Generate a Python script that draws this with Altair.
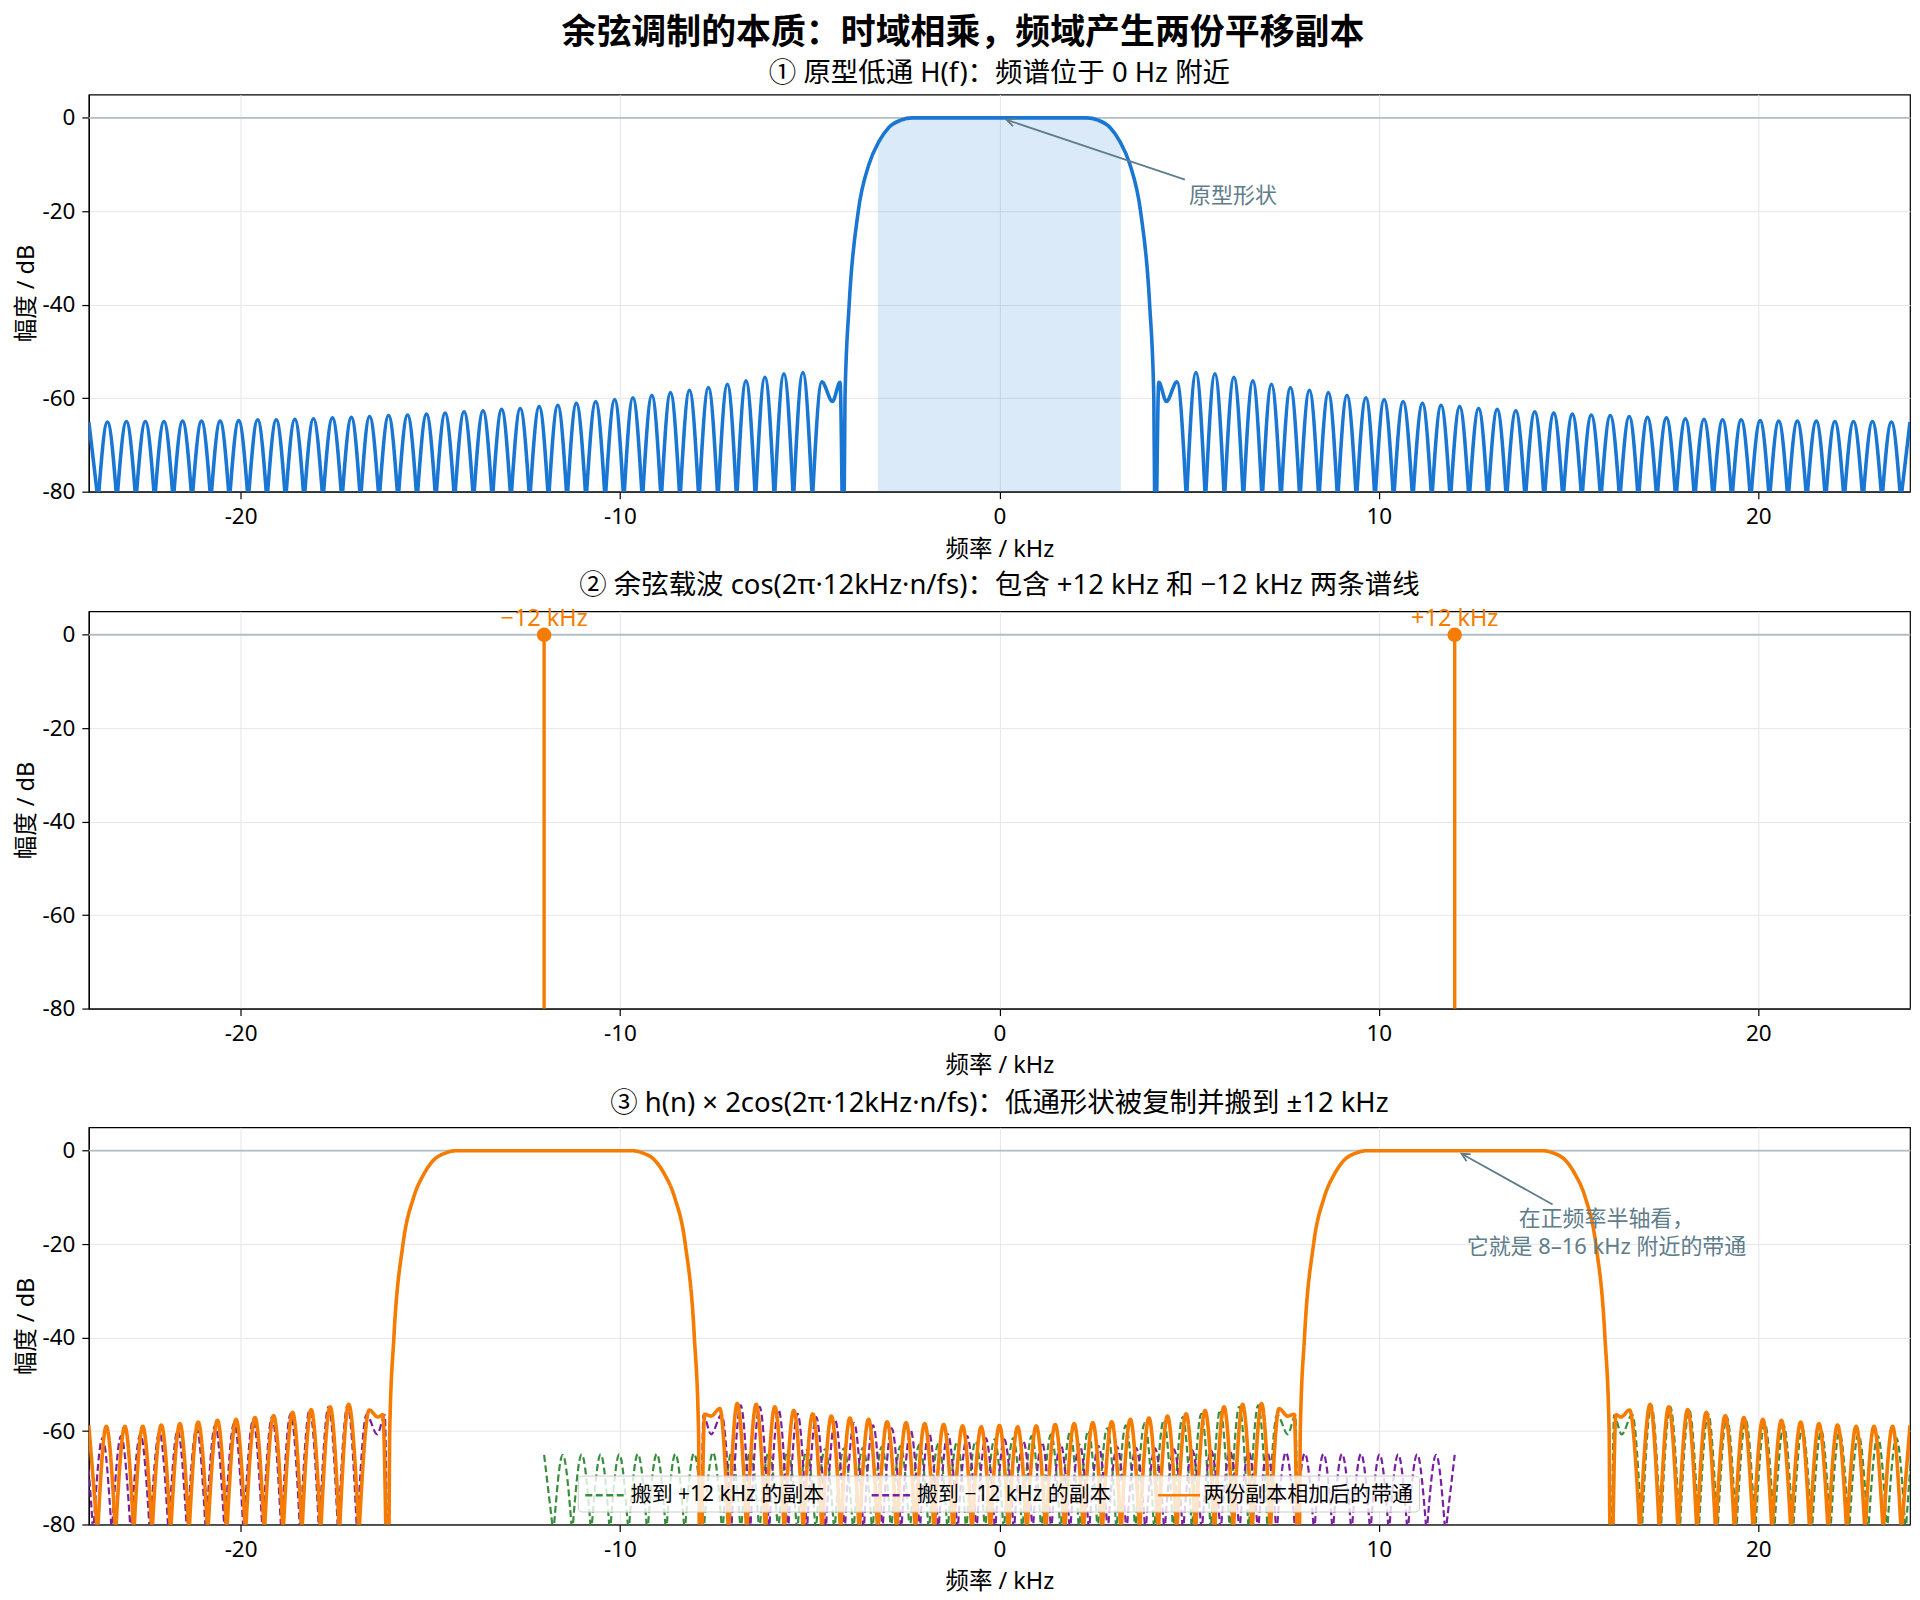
import math
import altair as alt
import pandas as pd

# ---------------- values ----------------
FONT = "Noto Sans, Noto Sans CJK SC"
BLUE, ORANGE, GREEN, PURPLE = "#1976d2", "#f57c00", "#388e3c", "#7b1fa2"
NOTE, ZERO_C = "#607d8b", "#b0bec5"

W, H = 1825, 398
X_DOMAIN = [-24, 24]
Y_DOMAIN = [-80, 5]
X_TICKS = [-20, -10, 0, 10, 20]
Y_TICKS = [-80, -60, -40, -20, 0]
NULL_DB = -82.0          # side-lobe nulls fall below the visible floor
SHIFT_KHZ = 12.0         # carrier frequency

SUPTITLE = "余弦调制的本质：时域相乘，频域产生两份平移副本"
TITLES = [
    "① 原型低通 H(f)：频谱位于 0 Hz 附近",
    "② 余弦载波 cos(2π·12kHz·n/fs)：包含 +12 kHz 和 −12 kHz 两条谱线",
    "③ h(n) × 2cos(2π·12kHz·n/fs)：低通形状被复制并搬到 ±12 kHz",
]
X_TITLE = "频率 / kHz"
Y_TITLE = "幅度 / dB"

# prototype low-pass: side-lobe peaks on the negative half (kHz, dB)
proto_peak_f = [-24.00, -23.51, -23.01, -22.51, -22.02, -21.53, -21.03, -20.54, -20.05, -19.55,
                -19.06, -18.57, -18.08, -17.58, -17.08, -16.60, -16.10, -15.60, -15.10, -14.61,
                -14.11, -13.61, -13.12, -12.63, -12.13, -11.64, -11.15, -10.64, -10.14, -9.66,
                -9.16, -8.67, -8.17, -7.67, -7.17, -6.68, -6.18, -5.68, -5.18]
proto_peak_db = [-65.1, -65.1, -65.0, -65.0, -65.0, -64.9, -64.9, -64.9, -64.8, -64.6,
                 -64.6, -64.5, -64.4, -64.2, -64.1, -63.9, -63.7, -63.6, -63.4, -63.2,
                 -62.9, -62.7, -62.4, -62.2, -61.8, -61.5, -61.1, -60.7, -60.3, -59.9,
                 -59.4, -58.8, -58.3, -57.7, -57.0, -56.3, -55.5, -54.8, -54.5]
# double-humped lobe next to the transition band
proto_shoulder_f = [-4.68, -4.40, -4.20]
proto_shoulder_db = [-56.5, -60.7, -56.6]
# left edge of the main lobe up to the centre
proto_edge_f = [-4.09, -4.07, -3.96, -3.72, -3.44, -3.17, -2.91, -2.60, -2.30, 0.00]
proto_edge_db = [-80.0, -60.0, -40.0, -20.0, -10.0, -5.0, -2.0, -0.5, 0.0, 0.0]
# shaded pass band
shade_f = [-3.20, -2.91, -2.60, -2.30, 2.30, 2.60, 2.91, 3.20]
shade_db = [-5.6, -2.0, -0.5, 0.0, 0.0, -0.5, -2.0, -5.6]

# modulated sum (orange): positive half, side lobes between the copies
sum_mid_f = [0.00, 0.48, 0.97, 1.47, 1.97, 2.46, 2.96, 3.45, 3.94, 4.43, 4.92, 5.42, 5.92, 6.41, 6.91]
sum_mid_db = [-58.8, -59.1, -58.9, -58.6, -58.4, -58.2, -58.0, -57.5, -57.2, -56.8, -56.3, -55.6,
              -54.8, -54.3, -54.1]
sum_mid_sh_f = [7.37, 7.60, 7.77]
sum_mid_sh_db = [-55.2, -56.8, -56.4]
sum_out_sh_f = [16.25, 16.38, 16.61]
sum_out_sh_db = [-56.5, -57.0, -55.5]
sum_out_f = [17.15, 17.64, 18.14, 18.63, 19.13, 19.62, 20.12, 20.61, 21.12, 21.60, 22.09, 22.58,
             23.05, 23.54, 24.00]
sum_out_db = [-54.3, -54.8, -55.4, -56.0, -56.7, -57.1, -57.5, -57.7, -58.1, -58.4, -58.7, -59.0,
              -59.0, -59.0, -58.8]

# carrier lines
carrier_f = [-12.0, 12.0]
carrier_db = [0.0, 0.0]
carrier_label = ["−12 kHz", "+12 kHz"]

# annotations
note1_text = "原型形状"
note1_xy = (0.19, -0.43)
note1_tail = (4.89, -13.2)
note1_pos = (5.0, -16.7)
note3_text = "在正频率半轴看，\n它就是 8–16 kHz 附近的带通"
note3_xy = (12.18, -0.66)
note3_tail = (14.58, -11.5)
note3_pos = (16.0, -17.9)

SERIES = ["搬到 +12 kHz 的副本", "搬到 −12 kHz 的副本", "两份副本相加后的带通"]


# ---------------- assembling lobes into line segments ----------------
def peaks(fs, ds):
    return [[(f, d)] for f, d in zip(fs, ds)]


def mirror(lobes):
    return [[(-f, d) for f, d in reversed(l)] for l in reversed(lobes)]


def shift(lobes, s):
    return [[(f + s, d) for f, d in l] for l in lobes]


def to_frame(lobes, name, series):
    rows = []
    for k, pts in enumerate(lobes):
        seg = list(pts)
        if k > 0:
            seg.insert(0, ((lobes[k - 1][-1][0] + pts[0][0]) / 2, NULL_DB))
        if k < len(lobes) - 1:
            seg.append(((pts[-1][0] + lobes[k + 1][0][0]) / 2, NULL_DB))
        for f, d in seg:
            rows.append({"f": f, "db": d, "seg": f"{name}{k}", "series": series})
    return pd.DataFrame(rows)


edge = list(zip(proto_edge_f, proto_edge_db))
main_lobe = edge + [(-f, d) for f, d in reversed(edge) if f != 0]
proto_left = peaks(proto_peak_f, proto_peak_db) + [list(zip(proto_shoulder_f, proto_shoulder_db))]
proto_lobes = proto_left + [main_lobe] + mirror(proto_left)

sum_pos = (peaks(sum_mid_f[1:], sum_mid_db[1:])
           + [list(zip(sum_mid_sh_f, sum_mid_sh_db))]
           + shift([main_lobe], SHIFT_KHZ)
           + [list(zip(sum_out_sh_f, sum_out_sh_db))]
           + peaks(sum_out_f, sum_out_db))
sum_lobes = mirror(sum_pos) + [[(sum_mid_f[0], sum_mid_db[0])]] + sum_pos

df_proto = to_frame(proto_lobes, "p", "proto")
df_green = to_frame(shift(proto_lobes, SHIFT_KHZ), "g", SERIES[0])
df_purple = to_frame(shift(proto_lobes, -SHIFT_KHZ), "m", SERIES[1])
df_sum = to_frame(sum_lobes, "s", SERIES[2])

df_shade = pd.DataFrame({"f": shade_f, "db": shade_db, "floor": Y_DOMAIN[0]})
df_zero = pd.DataFrame({"db": [0.0]})
df_carrier = pd.DataFrame({"f": carrier_f, "db": carrier_db, "label": carrier_label,
                           "floor": Y_DOMAIN[0]})


# ---------------- encodings ----------------
def X(field="f"):
    return alt.X(f"{field}:Q", scale=alt.Scale(domain=X_DOMAIN, nice=False, zero=False),
                 axis=alt.Axis(values=X_TICKS, title=X_TITLE, labelExpr="'' + datum.value"))


def Y(field="db"):
    return alt.Y(f"{field}:Q", scale=alt.Scale(domain=Y_DOMAIN, nice=False, zero=False),
                 axis=alt.Axis(values=Y_TICKS, title=Y_TITLE, labelExpr="'' + datum.value"))


def sub_title(t, offset=7):
    return alt.TitleParams(t, fontSize=27.5, fontWeight="normal", anchor="middle", frame="group",
                           offset=offset, font=FONT, color="black")


PX_KHZ = W / (X_DOMAIN[1] - X_DOMAIN[0])
PX_DB = H / (Y_DOMAIN[1] - Y_DOMAIN[0])
HEAD_PATH = "M-1.7,-0.85L0,0L-1.7,0.85"


def arrow(tail, head):
    ang = math.degrees(math.atan2(-(head[1] - tail[1]) * PX_DB, (head[0] - tail[0]) * PX_KHZ)) % 360
    d = pd.DataFrame({"f": [tail[0]], "db": [tail[1]], "f2": [head[0]], "db2": [head[1]]})
    line = alt.Chart(d).mark_rule(color=NOTE, strokeWidth=1.8).encode(
        x=X("f"), y=Y("db"), x2="f2:Q", y2="db2:Q")
    tip = alt.Chart(d).mark_point(shape=HEAD_PATH, filled=False, color=NOTE, strokeWidth=1.8,
                                  size=90, angle=ang, opacity=1).encode(x=X("f2"), y=Y("db2"))
    return line + tip


zero_rule = alt.Chart(df_zero).mark_rule(color=ZERO_C, strokeWidth=1.8).encode(y=Y("db"))

# ---------------- panel 1 ----------------
shade = alt.Chart(df_shade).mark_area(color=BLUE, opacity=0.15, interpolate="monotone",
                                      stroke=BLUE, strokeOpacity=0.12, strokeWidth=1).encode(
    x=X(), y=Y(), y2="floor:Q")
proto_line = alt.Chart(df_proto).mark_line(color=BLUE, strokeWidth=3.6, interpolate="monotone",
                                           clip=True).encode(x=X(), y=Y(), detail="seg:N")
note1 = alt.Chart(pd.DataFrame({"f": [note1_pos[0]], "db": [note1_pos[1]], "t": [note1_text]})).mark_text(
    align="left", baseline="middle", font=FONT, fontSize=22, color=NOTE).encode(x=X(), y=Y(), text="t:N")
panel1 = alt.layer(zero_rule, shade, proto_line, arrow(note1_tail, note1_xy), note1).properties(
    width=W, height=H, title=sub_title(TITLES[0]))

# ---------------- panel 2 ----------------
stems = alt.Chart(df_carrier).mark_rule(color=ORANGE, strokeWidth=3.4).encode(x=X(), y=Y(), y2="floor:Q")
heads = alt.Chart(df_carrier).mark_point(color=ORANGE, filled=True, size=210, opacity=1).encode(x=X(), y=Y())
labels = alt.Chart(df_carrier).mark_text(color=ORANGE, font=FONT, fontSize=23.5, align="center",
                                         baseline="alphabetic", dy=-9).encode(x=X(), y=Y(), text="label:N")
panel2 = alt.layer(zero_rule, stems, heads, labels).properties(width=W, height=H, title=sub_title(TITLES[1]))

# ---------------- panel 3 ----------------
LEG = alt.Legend(title=None, orient="none", legendX=490, legendY=349, direction="horizontal", columns=3,
                 symbolType="M-1,0H2.5", symbolSize=576, symbolStrokeWidth=2.6, labelFont=FONT,
                 labelFontSize=21, labelColor="black", labelOffset=20, columnPadding=41, padding=6,
                 fillColor="rgba(255,255,255,0.8)", strokeColor="#cccccc", cornerRadius=4,
                 labelLimit=600, symbolOpacity=1)
COLOR = alt.Color("series:N", scale=alt.Scale(domain=SERIES, range=[GREEN, PURPLE, ORANGE]), legend=LEG)
DASH = alt.StrokeDash("series:N", scale=alt.Scale(domain=SERIES, range=[[7, 3.5], [7, 3.5], [1, 0]]),
                      legend=LEG)


def copy_line(df, width):
    return alt.Chart(df).mark_line(strokeWidth=width, interpolate="monotone", clip=True).encode(
        x=X(), y=Y(), detail="seg:N", color=COLOR, strokeDash=DASH)


note3 = alt.Chart(pd.DataFrame({"f": [note3_pos[0]], "db": [note3_pos[1]], "t": [note3_text]})).mark_text(
    align="center", baseline="middle", font=FONT, fontSize=22, color=NOTE, lineBreak="\n",
    lineHeight=27.5, dy=-15).encode(x=X(), y=Y(), text="t:N")
panel3 = alt.layer(zero_rule, copy_line(df_green, 2.2), copy_line(df_purple, 2.2), copy_line(df_sum, 3.6),
                   arrow(note3_tail, note3_xy), note3).properties(
    width=W, height=H, title=sub_title(TITLES[2], offset=10))

chart = alt.vconcat(panel1, panel2, panel3, spacing=10).resolve_scale(
    color="independent", strokeDash="independent"
).resolve_legend(
    color="independent", strokeDash="independent"
).properties(
    title=alt.TitleParams(SUPTITLE, fontSize=35, fontWeight="bold", anchor="middle", offset=8,
                          font=FONT, color="black"),
    padding={"left": 6, "top": 6, "right": 0, "bottom": 5},
).configure(background="white", font=FONT).configure_view(
    stroke="black", strokeWidth=1.2
).configure_axis(
    labelFont=FONT, labelFontSize=22.5, labelColor="black", titleFont=FONT, titleFontSize=23.5,
    titleFontWeight="normal", titleColor="black", domainColor="black", domainWidth=1.2,
    tickColor="black", tickWidth=1.2, tickSize=7, labelPadding=7, gridColor="#e6e6e6", gridWidth=1,
).configure_axisX(titlePadding=9).configure_axisY(titlePadding=3)

chart.save("out.html", embed_options={"renderer": "svg", "actions": False})
